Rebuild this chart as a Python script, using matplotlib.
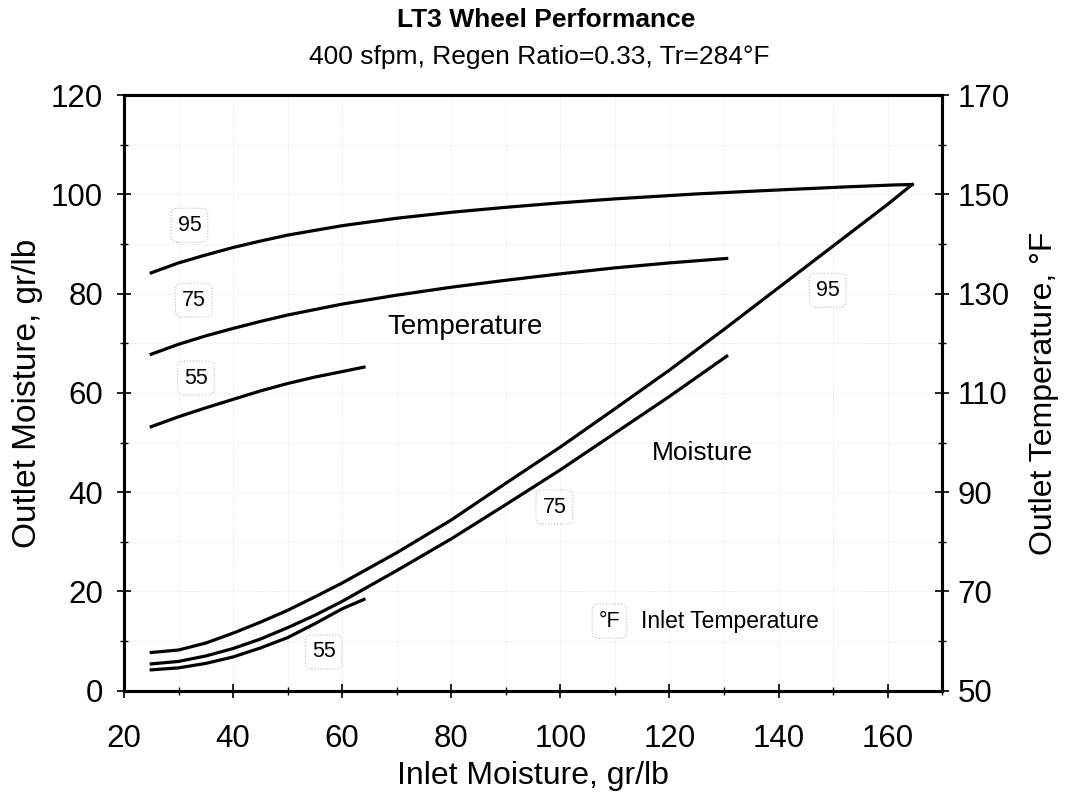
import matplotlib.pyplot as plt
from matplotlib.ticker import MultipleLocator

plt.rcParams['font.family'] = ['Liberation Sans', 'DejaVu Sans']

# Outlet temperature curves (right axis, deg F) vs inlet moisture, gr/lb
t95_x = [25, 30, 35, 40, 45, 50, 60, 70, 80, 90, 100, 110, 125, 140, 152, 161, 164.5]
t95_y = [134.2, 136.2, 137.8, 139.3, 140.6, 141.8, 143.7, 145.2, 146.4, 147.4,
         148.3, 149.1, 150.1, 150.9, 151.5, 151.9, 152.0]
t75_x = [25, 30, 35, 40, 45, 50, 60, 70, 80, 90, 100, 110, 120, 130.5]
t75_y = [117.8, 119.8, 121.5, 123.0, 124.4, 125.7, 127.9, 129.7, 131.3, 132.7,
         134.0, 135.2, 136.2, 137.1]
t55_x = [25, 30, 35, 40, 45, 50, 55, 60, 64]
t55_y = [103.2, 105.2, 107.0, 108.7, 110.4, 111.9, 113.2, 114.3, 115.2]

# Outlet moisture curves (left axis, gr/lb)
m95_x = [25, 30, 35, 40, 45, 50, 55, 60, 70, 80, 90, 100, 110, 120, 130, 140, 150, 160, 164.5]
m95_y = [7.7, 8.2, 9.6, 11.6, 13.8, 16.2, 18.9, 21.7, 27.8, 34.4, 41.8, 49.1,
         56.8, 64.6, 72.8, 81.2, 89.6, 98.0, 102.0]
m75_x = [25, 30, 35, 40, 45, 50, 55, 60, 70, 80, 90, 100, 110, 120, 130.5]
m75_y = [5.4, 5.9, 7.0, 8.5, 10.4, 12.7, 15.2, 18.0, 24.2, 30.6, 37.5, 44.5,
         51.9, 59.3, 67.4]
m55_x = [25, 30, 35, 40, 45, 50, 55, 60, 64]
m55_y = [4.2, 4.6, 5.5, 6.8, 8.6, 10.7, 13.5, 16.5, 18.4]

fig = plt.figure(figsize=(10.78, 7.93), dpi=100)
ax = fig.add_axes([0.115, 0.129, 0.759, 0.751])
ax2 = ax.twinx()

lw = 2.3
ax.plot(m95_x, m95_y, color='black', lw=lw)
ax.plot(m75_x, m75_y, color='black', lw=lw)
ax.plot(m55_x, m55_y, color='black', lw=lw)
ax2.plot(t95_x, t95_y, color='black', lw=lw)
ax2.plot(t75_x, t75_y, color='black', lw=lw)
ax2.plot(t55_x, t55_y, color='black', lw=lw)

ax.set_xlim(20, 170)
ax.set_ylim(0, 120)
ax2.set_ylim(50, 170)

ax.set_xticks([20, 40, 60, 80, 100, 120, 140, 160])
ax.xaxis.set_minor_locator(MultipleLocator(10))
ax.yaxis.set_major_locator(MultipleLocator(20))
ax.yaxis.set_minor_locator(MultipleLocator(10))
ax2.set_yticks([50, 70, 90, 110, 130, 150, 170])
ax2.yaxis.set_minor_locator(MultipleLocator(10))

for a in (ax, ax2):
    a.tick_params(which='major', direction='inout', length=10, width=1.2, labelsize=22.5)
    a.tick_params(which='minor', direction='inout', length=6, width=1.0)
    for s in a.spines.values():
        s.set_linewidth(2.2)
ax.tick_params(axis='x', which='major', pad=19)
ax.tick_params(axis='y', which='major', pad=10)
ax2.tick_params(axis='y', which='major', pad=6)

ax.grid(True, which='both', color='#e4e4e4', linestyle=':', linewidth=0.7)

ax.set_xlabel('Inlet Moisture, gr/lb', fontsize=23, labelpad=5)
ax.set_ylabel('Outlet Moisture, gr/lb', fontsize=24, labelpad=6)
ax2.set_ylabel('Outlet Temperature, °F', fontsize=23, labelpad=14)

fig.text(0.507, 0.975, 'LT3 Wheel Performance', ha='center', va='center',
         fontsize=19, fontweight='bold')
fig.text(0.5, 0.928, '400 sfpm, Regen Ratio=0.33, Tr=284°F', ha='center',
         va='center', fontsize=19)

box = dict(boxstyle='round,pad=0.3', fc='white', ec='#bbbbbb', ls=':', lw=0.8)
ax.text(32, 93.8, '95', ha='center', va='center', fontsize=15.5, bbox=box)
ax.text(32.8, 78.7, '75', ha='center', va='center', fontsize=15.5, bbox=box)
ax.text(33.2, 63, '55', ha='center', va='center', fontsize=15.5, bbox=box)
ax.text(149, 80.7, '95', ha='center', va='center', fontsize=15.5, bbox=box)
ax.text(98.9, 37, '75', ha='center', va='center', fontsize=15.5, bbox=box)
ax.text(56.6, 7.8, '55', ha='center', va='center', fontsize=15.5, bbox=box)
ax.text(109, 14, '°F', ha='center', va='center', fontsize=15.5, bbox=box)
ax.text(114.8, 14, 'Inlet Temperature', ha='left', va='center', fontsize=16.5)

ax.text(68.3, 73.2, 'Temperature', ha='left', va='center', fontsize=20)
ax.text(126, 47.9, 'Moisture', ha='center', va='center', fontsize=19)

fig.savefig('out.png', dpi=100)
